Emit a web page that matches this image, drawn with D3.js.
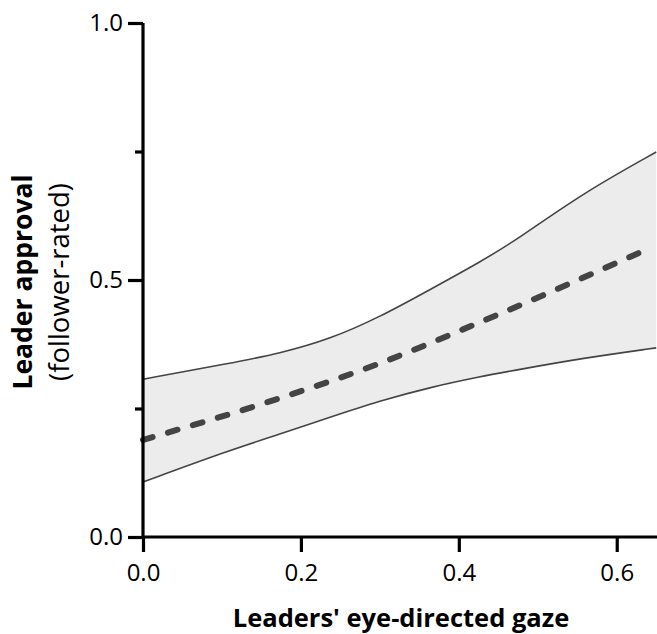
<!DOCTYPE html>
<html>
<head>
<meta charset="utf-8">
<script src="https://cdn.jsdelivr.net/npm/d3@7"></script>
<style>
  body { margin: 0; background: #fff; }
  text { font-family: "Open Sans", sans-serif; fill: #000; }
</style>
</head>
<body>
<div id="chartDiv"></div>
<script>
// band (upper / lower confidence) and mean line
var gazeBand = [0, 0.11, 0.173, 0.237, 0.3, 0.363, 0.427, 0.473, 0.557, 0.65];
var upperVals = [0.307, 0.338, 0.357, 0.385, 0.428, 0.481, 0.535, 0.578, 0.669, 0.749];
var lowerVals = [0.107, 0.169, 0.200, 0.233, 0.265, 0.291, 0.312, 0.325, 0.348, 0.368];

var gazeMean = [0, 0.177, 0.3, 0.427, 0.633];
var meanVals = [0.189, 0.272, 0.338, 0.418, 0.556];

var xTicks = [0, 0.2, 0.4, 0.6];
var yTicks = [0, 0.5, 1.0];
var yMinor = [0.25, 0.75];

;(function() {
	var width = 657, height = 634;
	var margin = { top: 23, right: 0, bottom: 97, left: 143 };
	var chartWidth = width - margin.left - margin.right;
	var chartHeight = height - margin.top - margin.bottom;

	var svg = d3.select("#chartDiv").append("svg")
		.attr("width", width)
		.attr("height", height);

	var x = d3.scaleLinear().domain([0, 0.651]).range([0, chartWidth]);
	var y = d3.scaleLinear().domain([0, 1]).range([chartHeight, 0]);

	var plot = svg.append("g")
		.attr("transform", "translate(" + margin.left + "," + margin.top + ")");

	var band = gazeBand.map(function(g, i) { return { g: g, hi: upperVals[i], lo: lowerVals[i] }; });
	var mean = gazeMean.map(function(g, i) { return { g: g, v: meanVals[i] }; });

	var curve = d3.curveBasis;

	plot.append("path")
		.datum(band)
		.attr("fill", "#ececec")
		.attr("d", d3.area().curve(curve)
			.x(function(d) { return x(d.g); })
			.y0(function(d) { return y(d.lo); })
			.y1(function(d) { return y(d.hi); }));

	["hi", "lo"].forEach(function(k) {
		plot.append("path")
			.datum(band)
			.attr("fill", "none")
			.attr("stroke", "#444")
			.attr("stroke-width", 1.6)
			.attr("d", d3.line().curve(curve)
				.x(function(d) { return x(d.g); })
				.y(function(d) { return y(d[k]); }));
	});

	plot.append("path")
		.datum(mean)
		.attr("fill", "none")
		.attr("stroke", "#444")
		.attr("stroke-width", 6)
		.attr("stroke-linecap", "round")
		.attr("stroke-dasharray", "10,16")
		.attr("d", d3.line().curve(d3.curveMonotoneX)
			.x(function(d) { return x(d.g); })
			.y(function(d) { return y(d.v); }));

	// axes
	var xAxis = d3.axisBottom(x).tickValues(xTicks).tickSize(15).tickPadding(12)
		.tickFormat(d3.format(".1f"));
	var gx = plot.append("g")
		.attr("transform", "translate(0," + chartHeight + ")")
		.call(xAxis);

	var yAxis = d3.axisLeft(y).tickValues(yTicks).tickSize(15).tickPadding(5)
		.tickFormat(d3.format(".1f"));
	var gy = plot.append("g").call(yAxis);

	plot.append("g").call(d3.axisLeft(y).tickValues(yMinor).tickSize(8).tickFormat(""))
		.select(".domain").remove();

	plot.selectAll(".domain, .tick line")
		.attr("stroke", "#000")
		.attr("stroke-width", 3.2);
	gx.select(".domain").attr("d", "M0,0H" + chartWidth);
	gy.select(".domain").attr("d", "M0,0V" + chartHeight);
	plot.selectAll(".tick text")
		.style("font-family", "'Open Sans', sans-serif")
		.style("font-size", "24px")
		.attr("fill", "#000");

	// axis titles
	svg.append("text")
		.attr("x", 401).attr("y", 627)
		.attr("text-anchor", "middle")
		.style("font-size", "25.5px")
		.style("font-weight", "bold")
		.text("Leaders' eye-directed gaze");

	var yt = svg.append("g")
		.attr("transform", "translate(0,282) rotate(-90)");
	yt.append("text")
		.attr("x", 0).attr("y", 32)
		.attr("text-anchor", "middle")
		.style("font-size", "26.5px")
		.style("font-weight", "bold")
		.text("Leader approval");
	yt.append("text")
		.attr("x", 0).attr("y", 69)
		.attr("text-anchor", "middle")
		.style("font-size", "27.5px")
		.text("(follower-rated)");
})();
</script>
</body>
</html>
